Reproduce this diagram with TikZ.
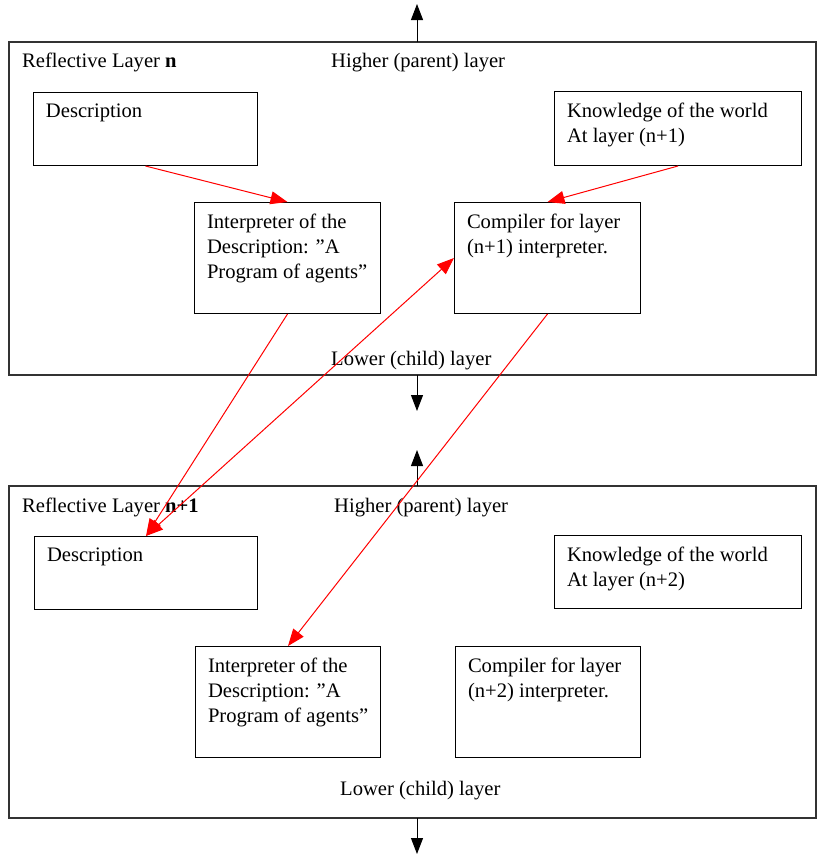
\documentclass[tikz,border=0pt]{standalone}
\usepackage{fontspec}
\setmainfont{Liberation Serif}
\usetikzlibrary{arrows.meta}
\newcommand{\boxtxt}[3]{\parbox[t][#2][t]{#1}{\leftskip=12.5pt\rightskip=0pt plus 1fil\relax #3}}

\begin{document}
\begin{tikzpicture}
        [x=1pt, y=-1pt, font=\fontsize{20.6}{25}\selectfont,
         frame/.style={draw=black!80, line width=1.3pt},
         box/.style={draw, line width=1pt, anchor=north west, inner xsep=0pt, inner ysep=11pt},
         lbl/.style={anchor=base west, inner sep=0pt},
         updown/.style={line width=1pt, -{Triangle[length=16pt,width=12pt]}},
         link/.style={red, line width=1pt, -{Triangle[length=17pt,width=13pt]}},
         bilink/.style={red, line width=1pt, {Triangle[length=17pt,width=13pt]}-{Triangle[length=17pt,width=13pt]}}]
        \useasboundingbox (0,0) rectangle (817,854);
        % the two reflective layers
        \draw[frame] (9,42) rectangle (816,375);
        \draw[frame] (9,486) rectangle (816,818);
        \coordinate (topA) at (417,42);   \coordinate (upA) at (417,4);
        \coordinate (botA) at (417,375);  \coordinate (downA) at (417,411);
        \coordinate (topB) at (417,486);  \coordinate (upB) at (417,450);
        \coordinate (botB) at (417,818);  \coordinate (downB) at (417,854);
        \path node (nameA) at (22,67) [lbl] {Reflective Layer \textbf{n}}
              node (highA) at (331,67) [lbl] {Higher (parent) layer}
              node (lowA) at (331,365) [lbl] {Lower (child) layer}
              node (nameB) at (22,512) [lbl] {Reflective Layer \textbf{n+1}}
              node (highB) at (334,512) [lbl] {Higher (parent) layer}
              node (lowB) at (340,795) [lbl] {Lower (child) layer};
        % boxes of layer n
        \path node (descA) at (33,92) [box] {\boxtxt{224pt}{51pt}{Description}}
              node (knowA) at (554,91) [box] {\boxtxt{247pt}{52pt}{Knowledge of the world\\At layer (n+1)}}
              node (interpA) at (194,202) [box] {\boxtxt{186pt}{89pt}{Interpreter of the Description: ''A Program of agents''}}
              node (compA) at (454,202) [box] {\boxtxt{186pt}{89pt}{Compiler for layer (n+1) interpreter.}};
        % boxes of layer n+1
        \path node (descB) at (34,536) [box] {\boxtxt{223pt}{51pt}{Description}}
              node (knowB) at (554,535) [box] {\boxtxt{247pt}{51pt}{Knowledge of the world\\At layer (n+2)}}
              node (interpB) at (195,646) [box] {\boxtxt{185pt}{89pt}{Interpreter of the Description: ''A Program of agents''}}
              node (compB) at (455,646) [box] {\boxtxt{185pt}{89pt}{Compiler for layer (n+2) interpreter.}};
        % links to parent and child
        \draw[updown] (topA) -- (upA);
        \draw[updown] (botA) -- (downA);
        \draw[updown] (topB) -- (upB);
        \draw[updown] (botB) -- (downB);
        % red links
        \draw[link] (descA.south) -- (interpA.north);
        \draw[link] (knowA.south) -- (compA.north);
        \draw[link] (interpA.south) -- (descB.north);
        \draw[bilink] (descB.north) -- (compA.west);
        \draw[link] (compA.south) -- (interpB.north);
      \end{tikzpicture}
\end{document}
